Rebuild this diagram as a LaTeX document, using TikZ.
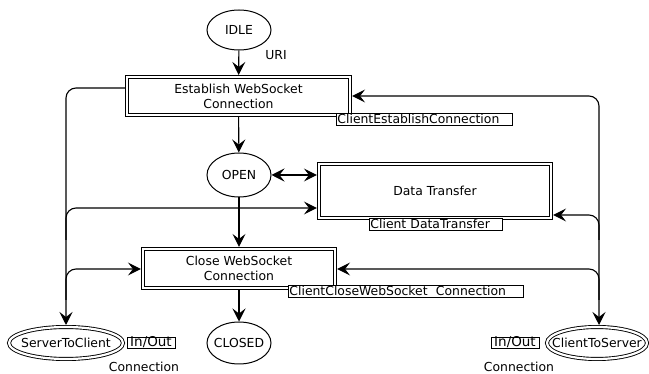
\documentclass[tikz,border=0pt]{standalone}
\usepackage{fontspec}
\setmainfont{DejaVu Sans}
\usetikzlibrary{shapes.geometric,arrows.meta}
\newcommand\zbox[1]{\makebox[0pt]{#1}}
\begin{document}
\begin{tikzpicture}[x=1pt,y=-1pt,
  font=\fontsize{12.4}{14.9}\selectfont,
  every node/.style={inner sep=0pt},
  place/.style={draw, ellipse, line width=1pt, minimum width=64pt},
  ioplace/.style={draw, ellipse, double, double distance=2.2pt, line width=0.9pt, outer sep=2pt},
  trans/.style={draw, double, double distance=2.4pt, line width=1pt, align=center, outer sep=2.2pt},
  tag/.style={draw, fill=white, line width=0.9pt, text height=9.5pt, text depth=1.5pt, inner xsep=1pt, inner ysep=0.5pt, anchor=north west, align=left},
  iotag/.style={draw, line width=0.9pt, minimum width=48pt, text height=9.5pt, text depth=1.5pt, inner ysep=0pt, font=\fontsize{13.5}{15}\selectfont},
  tip/.tip={Stealth[length=13pt,width=13pt,inset=5pt]},
  arc/.style={line width=1.1pt, -tip},
  roundbend/.style={rounded corners=10pt}
]
\path[use as bounding box] (0,0) rectangle (649,374);

% places
\node[place, minimum height=40pt] (idle) at (239,30) {\zbox{IDLE}};
\node (uri) at (276,55) {URI};
\node[place, minimum height=44pt] (open) at (239,175) {\zbox{OPEN}};
\node[place, minimum height=42pt] (closed) at (239,343) {\zbox{CLOSED}};
\node[ioplace, minimum width=114pt, minimum height=32pt] (s2c) at (66,343) {\zbox{ServerToClient}};
\node[ioplace, minimum width=100pt, minimum height=32pt] (c2s) at (597,343) {\zbox{ClientToServer}};
\node[iotag] (io1) at (151,343) {In/Out};
\node[iotag] (io2) at (515,343) {In/Out};
\node (con1) at (144,367) {Connection};
\node (con2) at (519,367) {Connection};

% transitions
\node[trans, minimum width=222.7pt, minimum height=37.7pt] (est) at (238.5,96) {Establish WebSocket\\Connection};
\node[trans, minimum width=231.7pt, minimum height=53.7pt] (dt) at (435,191) {Data Transfer};
\node[trans, minimum width=191.7pt, minimum height=38.7pt] (close) at (239,268.5) {Close WebSocket\\Connection};

% arcs
\draw[arc] (idle) -- (est);
\draw[arc] (est) -- (open);
\draw[line width=1.1pt, tip-tip] (open) -- (dt.west |- 0,175);
\draw[arc] (open) -- (close);
\draw[arc] (close) -- (closed);

\draw[arc, roundbend] (est.west |- 0,88) -| (s2c.north);
\draw[arc, roundbend] (66,240) |- (dt.west |- 0,208);
\draw[arc, roundbend] (66,300) |- (close.west |- 0,269);

\draw[line width=1.1pt, tip-tip, roundbend] (est.east |- 0,96) -| (c2s.north -| 599,0);
\draw[arc, roundbend] (599,240) |- (dt.east |- 0,215);
\draw[arc, roundbend] (599,300) |- (close.east |- 0,269);

% labels
\node[tag, text width=174pt] (estlbl) at (336,113) {ClientEstablishConnection};
\node[tag, text width=131pt] (dtlbl) at (369,218) {Client DataTransfer};
\node[tag, text width=233pt] (closelbl) at (288,285) {ClientCloseWebSocket\ \ Connection};
\end{tikzpicture}
\end{document}
